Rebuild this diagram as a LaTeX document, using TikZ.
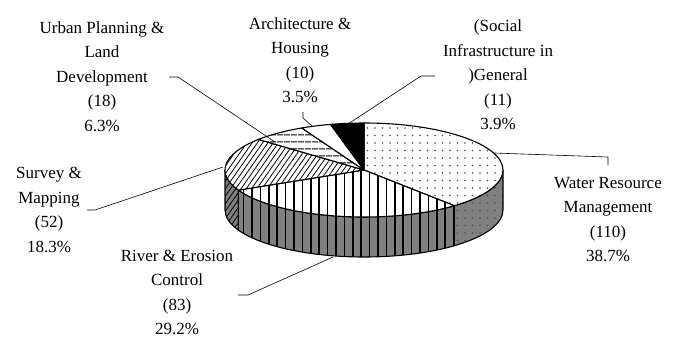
\documentclass[tikz,border=0pt]{standalone}
\usepackage{fontspec}
\setmainfont{Liberation Serif}
\usetikzlibrary{patterns.meta}
\tikzset{
  slice/.style={draw=black, line width=1.1pt, line join=round},
  rim/.style={x radius=139, y radius=47},
  leader/.style={draw=black, line width=0.6pt},
  lbl/.style={align=center, inner sep=0pt, font=\fontsize{17}{24.5}\selectfont},
  stripes/.style={pattern={Lines[angle=90, distance=8.4pt, line width=1.6pt]}, pattern color=black},
  dotted/.style={pattern={Dots[radius=0.85pt, distance=7.5pt]}, pattern color=black!70},
  hatched/.style={pattern={Lines[angle=55, distance=4.3pt, line width=0.8pt]}, pattern color=black},
  ruled/.style={pattern={Lines[angle=0, distance=6.5pt, line width=1.1pt]}, pattern color=black},
}

\begin{document}
\begin{tikzpicture}[x=1pt, y=1pt]
  \useasboundingbox (0,0) rectangle (676,338);
  \coordinate (c) at (364,168);

  % side walls
  \path[slice, preaction={fill=black!50}, hatched] (c) ++(180:139 and 47) arc[rim, start angle=180, end angle=205.35]
    -- ++(0,-40) arc[rim, start angle=205.35, end angle=180] -- cycle;
  \path[slice, preaction={fill=black!50}, stripes] (c) ++(205.35:139 and 47) arc[rim, start angle=205.35, end angle=310.56]
    -- ++(0,-40) arc[rim, start angle=310.56, end angle=205.35] -- cycle;
  \path[slice, preaction={fill=black!50}, dotted] (c) ++(310.56:139 and 47) arc[rim, start angle=310.56, end angle=360]
    -- ++(0,-40) arc[rim, start angle=360, end angle=310.56] -- cycle;

  % top of the pie
  \path[slice, preaction={fill=white}, dotted] (c) -- ++(90:139 and 47) arc[rim, start angle=90, end angle=-49.44] -- cycle;
  \path[slice, preaction={fill=white}, stripes] (c) -- ++(-49.44:139 and 47) arc[rim, start angle=-49.44, end angle=-154.65] -- cycle;
  \path[slice, preaction={fill=white}, hatched] (c) -- ++(-154.65:139 and 47) arc[rim, start angle=-154.65, end angle=-220.57] -- cycle;
  \path[slice, preaction={fill=white}, ruled] (c) -- ++(139.43:139 and 47) arc[rim, start angle=139.43, end angle=116.61] -- cycle;
  \path[slice, fill=white] (c) -- ++(116.61:139 and 47) arc[rim, start angle=116.61, end angle=103.94] -- cycle;
  \path[slice, fill=black] (c) -- ++(103.94:139 and 47) arc[rim, start angle=103.94, end angle=90] -- cycle;

  % labels
  \node[lbl] (urban) at (102,261.5) {Urban Planning \&\\Land\\Development\\(18)\\6.3\%};
  \node[lbl] (arch) at (300,278) {Architecture \&\\Housing\\(10)\\3.5\%};
  \node[lbl] (social) at (498,263) {(Social\\Infrastructure in\\)General\\(11)\\3.9\%};
  \node[lbl] (water) at (608,118.5) {Water Resource\\Management\\(110)\\38.7\%};
  \node[lbl] (survey) at (49,128) {Survey \&\\Mapping\\(52)\\18.3\%};
  \node[lbl] (river) at (177,45.5) {River \& Erosion\\Control\\(83)\\29.2\%};

  % leader lines
  \coordinate (urban-s) at (169,261);   \coordinate (urban-e) at (275,196);
  \coordinate (arch-s) at (303,226);    \coordinate (arch-e) at (312,212);
  \coordinate (social-s) at (435,262);  \coordinate (social-e) at (348,214);
  \coordinate (water-s) at (608,173);   \coordinate (water-e) at (494,185);
  \coordinate (survey-s) at (87,128);   \coordinate (survey-e) at (223,171);
  \coordinate (river-s) at (238,43);    \coordinate (river-e) at (333,81);
  \draw[leader] (urban-s) -- ++(9,0) -- (urban-e);
  \draw[leader] (arch-s) -- ++(0,-6) -- (arch-e);
  \draw[leader] (social-s) -- ++(-14,0) -- (social-e);
  \draw[leader] (water-s) -- ++(0,8) -- (water-e);
  \draw[leader] (survey-s) -- ++(8,0) -- (survey-e);
  \draw[leader] (river-s) -- ++(10,0) -- (river-e);
\end{tikzpicture}
\end{document}
